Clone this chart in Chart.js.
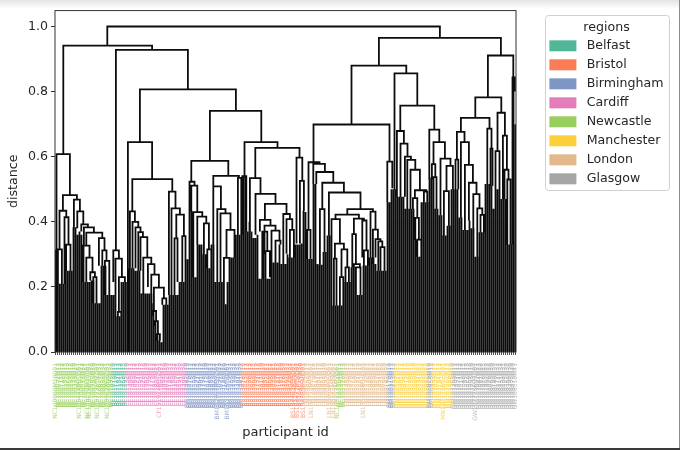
<!DOCTYPE html>
<html>
<head>
<meta charset="utf-8">
<script src="https://cdn.jsdelivr.net/npm/chart.js@4"></script>
<style>
html, body { margin: 0; padding: 0; overflow: hidden; }
body {
  width: 680px; height: 450px;
  background: linear-gradient(#e4e4e4 0, #fff 9px);
  box-shadow: inset 0 -2px 0 #3a3a3a, inset -1px 0 0 #8a8a8a;
}
canvas { display: block; }
</style>
</head>
<body>
<canvas id="dendrogram" width="680" height="450"></canvas>
<script>
const regionNames = ['Belfast', 'Bristol', 'Birmingham', 'Cardiff', 'Newcastle', 'Manchester', 'London', 'Glasgow'];
const regionColors = ['#52b798', '#fb7d57', '#7f95c3', '#e57cba', '#97ce5d', '#fdd03a', '#e3b88c', '#a5a5a5'];
const regionPrefixes = ['BF', 'BS', 'BM', 'CF', 'NC', 'MN', 'LN', 'GW'];

// runs of leaves along the x axis: region index and how many leaves
const runRegions = [4, 0, 3, 2, 1, 6, 4, 6, 2, 5, 2, 5, 7];
const runCounts = [29, 7, 30, 28, 31, 16, 4, 22, 3, 17, 2, 10, 32];
// leaves whose id is longer than the others
const longLabelLeaves = [0, 12, 16, 17, 21, 26, 52, 81, 86, 119, 121, 124, 128, 137, 139, 141, 154, 194, 210];

// height where each leaf meets its first merge
const leafTop = [
  .315, .21, .21, .21, .21, .33, .25, .25, .25, .383,
  .383, .36, .37, .36, .33, .215, .215, .215, .22, .22,
  .15, .15, .15, .265, .265, .265, .175, .175, .175, .175,
  .215, .11, .11, .215, .215, .215, .215, .257, .257, .257,
  .25, .25, .25, .18, .18, .18, .18, .18, .18, .15,
  .095, .055, .035, .03, .145, .145, .145, .175, .175, .175,
  .175, .175, .215, .215, .215, .285, .285, .432, .432, .23,
  .23, .33, .33, .33, .3, .3, .257, .257, .33, .33,
  .215, .215, .215, .215, .215, .147, .215, .215, .29, .29,
  .36, .36, .36, .36, .54, .54, .37, .4, .37, .35,
  .35, .36, .225, .225, .37, .225, .225, .225, .275, .275,
  .33, .275, .33, .27, .27, .27, .3, .29, .29, .29,
  .33, .33, .33, .333, .434, .43, .286, .286, .286, .516,
  .516, .27, .268, .268, .307, .307, .358, .358, .358, .143,
  .143, .143, .143, .143, .215, .215, .215, .215, .26, .26,
  .26, .175, .175, .175, .266, .266, .266, .29, .29, .29,
  .27, .25, .25, .25, .25, .25, .46, .46, .5, .5,
  .5, .477, .477, .477, .477, .44, .44, .44, .44, .44,
  .345, .293, .293, .46, .46, .46, .46, .536, .536, .536,
  .44, .44, .42, .42, .358, .358, .388, .388, .5, .5,
  .5, .5, .413, .413, .375, .375, .375, .404, .38, .38,
  .293, .293, .368, .368, .368, .516, .516, .516, .51, .44,
  .44, .5, .5, .47, .47, .47, .33, .33, .33, .844,
  .7
];

// merges: left leaf pos, right leaf pos, merge height, left child height, right child height
const merges = [
  [25.9, 192.2, 1.0, .941, .965], [3.9, 48.3, .941, .608, .928], [30.2, 66.2, .928, .312, .807],
  [42.2, 90.2, .807, .645, .741], [36.2, 48.3, .645, 0, .531], [77.2, 102.9, .741, .587, .645],
  [67.9, 86.4, .587, .523, .541], [94.5, 111, .645, .54, .627], [99.9, 122, .627, .534, .597],
  // left block
  [.5, 7.2, .608, 0, .482], [3.7, 10.7, .482, .434, .468], [2, 5.4, .434, .315, .414],
  [1.2, 3.2, .315, .21, .21], [4.5, 6.5, .414, .21, .33], [5.3, 7.5, .33, .25, .25],
  [9.2, 12.2, .468, .383, .432], [10.9, 13.9, .432, .38, .392], [12.9, 16.2, .392, .37, .383],
  [14.2, 19.2, .383, .33, .367], [15.4, 23.4, .367, .327, .35], [13.9, 17, .327, .215, .29],
  [15.4, 18.5, .29, .215, .245], [17.4, 19.7, .245, .22, .23], [18.9, 20.5, .23, .15, .15],
  [21.7, 24.5, .35, .265, .312], [23.4, 25.5, .312, .265, .28], [24.7, 26.9, .28, .175, .175],
  [28.9, 31.7, .312, .215, .287], [30, 33.2, .287, .215, .23], [31.7, 34.7, .23, .123, .215],
  [31.2, 32.9, .123, .11, .11],
  [38.4, 58.4, .531, .432, .493], [37.2, 39.7, .432, .257, .4], [38.5, 41.4, .4, .257, .383],
  [40, 42.5, .383, .257, .368], [41.4, 43.7, .368, .25, .353], [42.5, 45.9, .353, .25, .29],
  [43.9, 47.9, .29, .177, .27], [46.2, 49.5, .27, .2, .238], [47.9, 51.7, .238, .18, .198],
  [49.2, 54.2, .198, .126, .165], [48.3, 50.3, .126, .11, .095], [49.5, 51.2, .095, .08, .055],
  [50.5, 52.2, .055, .035, .035], [53.4, 55.4, .165, .145, .145], [56.7, 60, .493, .175, .441],
  [58, 62.2, .441, .175, .422], [60.4, 64.2, .422, .349, .356], [59.5, 61, .349, .175, .215],
  [63.4, 65, .356, .215, .285],
  [67, 69.5, .523, 0, .511], [67.9, 70.9, .511, .432, .43], [68.9, 73.4, .43, .23, .416],
  [70.9, 75.4, .416, .33, .395], [74.2, 76.7, .395, .3, .315], [75.9, 77.9, .315, .257, .257],
  [78.9, 91.7, .541, .509, .535], [78.9, 82.7, .509, .33, .439], [80.9, 85, .439, .215, .426],
  [82.5, 87.5, .426, .215, .375], [85.5, 89.5, .375, .289, .29], [84.2, 87, .289, .147, .215],
  [91.2, 92.9, .535, .36, .36], [93.4, 95.4, .54, .36, .37],
  [97.2, 102.5, .534, .37, .486], [100, 110, .486, .36, .455], [104.7, 115.5, .455, .406, .424],
  [102.2, 107.5, .406, .37, .388], [103.4, 105.9, .37, .225, .31], [105, 107.2, .31, .225, .23],
  [104.5, 110, .388, .3, .373], [108, 112, .373, .275, .342], [110, 112.5, .342, .275, .33],
  [113.9, 117.2, .424, .27, .408], [115.5, 118.4, .408, .302, .375], [117.2, 119.2, .375, .29, .29],
  [120.5, 123.4, .597, .333, .526], [122.2, 124.2, .526, .333, .434],
  // right block
  [161.7, 222.7, .965, .88, .911], [148, 175.4, .88, .699, .856], [129, 167, .699, .583, .585],
  [126.5, 132, .583, .375, .578], [128.9, 134.7, .578, .516, .553], [125.9, 127.5, .375, .286, .286],
  [130.4, 138.9, .553, .516, .52], [133.4, 144.2, .52, .439, .49], [132.2, 134.5, .439, .268, .307],
  [136.7, 152.5, .49, .358, .439], [145.9, 158.7, .439, .422, .431], [140, 151.7, .422, .408, .41],
  [138, 142.2, .408, 0, .333], [139.7, 144.2, .333, .287, .315], [139.2, 140.5, .287, .143, .143],
  [143, 145.9, .315, .23, .26], [142.2, 143.9, .23, .143, .143], [145, 146.7, .26, .215, .215],
  [149.2, 154.2, .41, .362, .404], [148.4, 150.2, .362, .26, .27], [149.2, 152.2, .27, .26, .26],
  [150.2, 152.5, .26, .175, .175], [153.4, 155.5, .404, .29, .312], [154.2, 156.2, .312, .266, .266],
  [157.5, 160, .431, .29, .376], [158.7, 161.2, .376, .27, .347], [160, 162.5, .347, .29, .34],
  [161.4, 163.4, .34, .25, .322], [162.5, 164.5, .322, .25, .25], [165.9, 168.4, .585, .46, .503],
  [169.5, 180.9, .856, .5, .757], [172.4, 189.4, .757, .679, .683], [170.7, 174.2, .679, .477, .64],
  [172.5, 176, .64, .477, .6], [174.7, 177.7, .6, .477, .59], [175.9, 179.9, .59, .44, .56],
  [177.5, 182.2, .56, .44, .497], [179.7, 185.4, .497, .473, .493], [178.7, 180.9, .473, .44, .412],
  [179.9, 181.7, .412, .345, .345], [180.9, 182.9, .345, .293, .293], [184.2, 185.9, .493, .46, .46],
  [186.9, 191.9, .683, .53, .645], [189, 194.7, .645, .577, .594], [188.2, 189.9, .577, .53, .537],
  [189, 190.5, .537, .44, .44], [192.5, 197.5, .594, .42, .572], [195.5, 198.7, .572, .494, .5],
  [194.2, 196.7, .494, .358, .388],
  [216.2, 228.9, .911, .782, .844], [209.9, 222.9, .782, .719, .735], [202.7, 217, .719, .676, .686],
  [200.7, 204.5, .676, .591, .645], [200, 201.4, .591, .5, .5], [202.7, 206.7, .645, .413, .575],
  [204.7, 208.7, .575, .375, .52], [206.7, 210.5, .52, .404, .485], [208.9, 212, .485, .38, .441],
  [210.9, 213.4, .441, .293, .421], [212.5, 214.2, .421, .368, .368], [215.9, 218, .686, .516, .625],
  [217.5, 218.5, .625, .51, .51], [221, 224.7, .735, .617, .665], [220, 222, .617, .44, .5],
  [223.7, 225.7, .665, .47, .56], [224.5, 226.5, .56, .47, .53], [225.9, 227.5, .53, .33, .33],
  [228.5, 229.7, .844, .33, .8]
];

const yTicks = [0, .2, .4, .6, .8, 1];
const FONT = 'DejaVu Sans';
const TEXT = '#262626';

// leaf -> region and the participant id shown under it
const leafRegion = [];
const participantIds = [];
runRegions.forEach((region, r) => {
  for (let n = 0; n < runCounts[r]; n++) {
    const leaf = leafRegion.length;
    let id = regionPrefixes[region] + String(100000 + leaf * 37) + 'M' + String(10 + n);
    if (longLabelLeaves.includes(leaf)) id += '001';
    leafRegion.push(region);
    participantIds.push(id);
  }
});

// one long path, the null points break it between pieces
const treePath = [];
const gap = { x: null, y: null };
leafTop.forEach((top, i) => {
  treePath.push({ x: i, y: 0 }, { x: i, y: top }, gap);
});
merges.forEach(([left, right, height, leftBase, rightBase]) => {
  treePath.push(
    { x: left, y: leftBase }, { x: left, y: height },
    { x: right, y: height }, { x: right, y: rightBase }, gap
  );
});

const framePlugin = {
  id: 'frame',
  beforeLayout(chart) {
    // legend keeps a fixed width so the names fit inside the box
    const legend = chart.legend;
    if (legend._fixedFit) return;
    const fit = legend.fit;
    legend.fit = function () {
      fit.call(this);
      this.width = 127;
    };
    legend._fixedFit = true;
  },
  afterDraw(chart) {
    const { ctx, chartArea: a, legend } = chart;
    ctx.save();
    ctx.strokeStyle = '#333';
    ctx.lineWidth = 1;
    ctx.strokeRect(a.left, a.top, a.right - a.left, a.bottom - a.top);
    ctx.strokeStyle = '#d0d0d0';
    ctx.beginPath();
    ctx.roundRect(legend.left + 2.5, 15.5, 124, 175, 3);
    ctx.stroke();
    ctx.restore();
  }
};

new Chart(document.getElementById('dendrogram'), {
  type: 'scatter',
  data: {
    datasets: [{
      data: treePath,
      showLine: true,
      spanGaps: false,
      pointRadius: 0,
      borderColor: '#0c0c0c',
      borderWidth: 1.8,
      borderJoinStyle: 'miter',
      tension: 0
    }]
  },
  plugins: [framePlugin],
  options: {
    responsive: false,
    animation: false,
    layout: { padding: { left: 6, right: 10, top: 9, bottom: 10 } },
    plugins: {
      tooltip: { enabled: false },
      legend: {
        position: 'right',
        align: 'start',
        title: {
          display: true,
          text: 'regions',
          color: TEXT,
          font: { family: FONT, size: 12.6 },
          padding: { top: 12, bottom: -3 }
        },
        labels: {
          boxWidth: 27,
          boxHeight: 11,
          padding: 6.4,
          color: TEXT,
          font: { family: FONT, size: 12.6 },
          generateLabels: () => regionNames.map((name, i) => ({
            text: ' ' + name,
            fillStyle: regionColors[i],
            strokeStyle: regionColors[i],
            lineWidth: 0,
            datasetIndex: 0
          }))
        }
      }
    },
    scales: {
      x: {
        type: 'linear',
        min: -.25,
        max: 230.25,
        title: {
          display: true,
          text: 'participant id',
          color: TEXT,
          font: { family: FONT, size: 13 },
          padding: 0
        },
        grid: { drawOnChartArea: false, drawTicks: true, tickLength: 3, tickColor: '#222', lineWidth: .8 },
        border: { display: false },
        afterBuildTicks: axis => { axis.ticks = participantIds.map((id, i) => ({ value: i })); },
        afterFit: axis => { axis.height = 88; },
        ticks: {
          autoSkip: false,
          minRotation: 90,
          maxRotation: 90,
          padding: 8,
          font: { family: FONT, size: 6 },
          color: ctx => regionColors[leafRegion[ctx.index]] + 'c0',
          callback: (value, i) => participantIds[i]
        }
      },
      y: {
        min: 0,
        max: 1.049,
        title: {
          display: true,
          text: 'distance',
          color: TEXT,
          font: { family: FONT, size: 12.6 },
          padding: 0
        },
        grid: { drawOnChartArea: false, tickLength: 4, tickColor: '#333' },
        border: { display: false },
        afterBuildTicks: axis => { axis.ticks = yTicks.map(value => ({ value })); },
        afterFit: axis => { axis.width = 49; },
        ticks: {
          padding: 3,
          color: TEXT,
          font: { family: FONT, size: 12.6 },
          callback: value => value.toFixed(1)
        }
      },
      // empty axis on the right, keeps the gap before the legend
      gapAxis: {
        position: 'right',
        display: true,
        min: 0,
        max: 1,
        grid: { display: false },
        border: { display: false },
        ticks: { display: false },
        afterFit: axis => { axis.width = 27; }
      }
    }
  }
});
</script>
</body>
</html>
